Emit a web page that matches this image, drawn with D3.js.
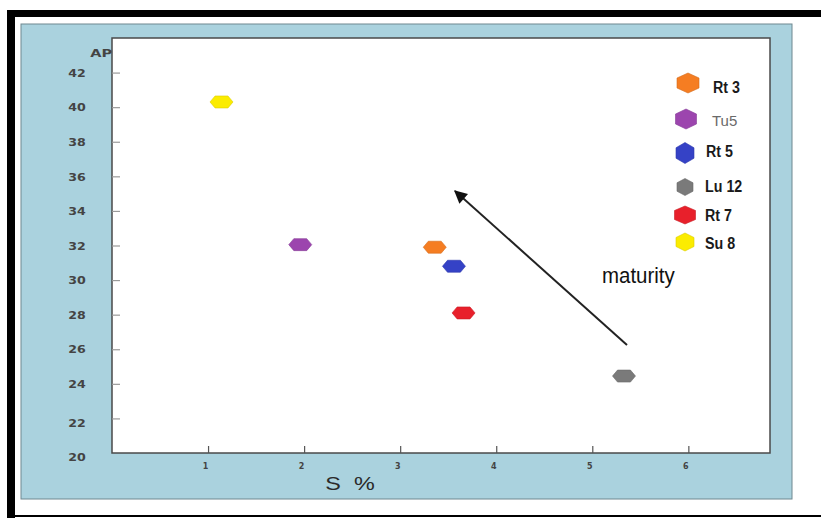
<!DOCTYPE html>
<html>
<head>
<meta charset="utf-8">
<script src="https://cdn.jsdelivr.net/npm/d3@7"></script>
<style>
  html, body { margin: 0; padding: 0; background: #fff; }
  svg { display: block; }
</style>
</head>
<body>
<svg id="chart" width="821" height="518"></svg>
<script>
// Samples and their sulphur / API values
const samples = ["Rt 3", "Tu5", "Rt 5", "Lu 12", "Rt 7", "Su 8"];
const sulphur = [3.36, 1.96, 3.56, 5.33, 3.66, 1.14];
const api     = [31.9, 32.05, 30.8, 24.45, 28.1, 40.3];
const colors  = ["#f57d22", "#9c45ae", "#3542c6", "#7a7a7a", "#e8202b", "#fbec00"];

const xTicks = [1, 2, 3, 4, 5, 6];
const yTicks = [20, 22, 24, 26, 28, 30, 32, 34, 36, 38, 40, 42];

const svg = d3.select("#chart");

// outer frame
svg.append("rect").attr("x", 7).attr("y", 10).attr("width", 814).attr("height", 7).attr("fill", "#000");
svg.append("rect").attr("x", 7).attr("y", 10).attr("width", 8).attr("height", 508).attr("fill", "#000");
svg.append("rect").attr("x", 7).attr("y", 515).attr("width", 814).attr("height", 2).attr("fill", "#000");

// light blue panel
svg.append("rect")
  .attr("x", 21).attr("y", 24).attr("width", 771).attr("height", 475)
  .attr("fill", "#aad2de").attr("stroke", "#6f8890").attr("stroke-width", 1);

const plotL = 112, plotR = 770, plotT = 38, plotB = 453;
const x = d3.scaleLinear().domain([0, 6.85]).range([plotL, plotR]);
const y = d3.scaleLinear().domain([20, 44]).range([plotB, plotT]);

// plotting area
svg.append("rect")
  .attr("x", plotL).attr("y", plotT).attr("width", plotR - plotL).attr("height", plotB - plotT)
  .attr("fill", "#fff").attr("stroke", "#4a4a4a").attr("stroke-width", 1.5);

// y axis
const yAxis = svg.append("g")
  .attr("transform", `translate(${plotL},0)`)
  .call(d3.axisLeft(y).tickValues(yTicks).tickSizeInner(-8).tickSizeOuter(0).tickPadding(0));
yAxis.select(".domain").remove();
yAxis.selectAll(".tick line").attr("stroke", "#9a9a9a").attr("stroke-width", 1.2)
  .filter(d => d === 20).remove();
yAxis.selectAll(".tick text")
  .attr("x", 0).attr("text-anchor", "middle")
  .attr("transform", "translate(-35,0) scale(1.2,1)")
  .attr("dy", d => d <= 22 ? "0.75em" : "0.35em")
  .attr("font-family", "DejaVu Sans, sans-serif").attr("font-weight", "bold")
  .attr("font-size", 10.5).attr("fill", "#444");

// x axis
const xAxis = svg.append("g")
  .attr("transform", `translate(0,${plotB})`)
  .call(d3.axisBottom(x).tickValues(xTicks).tickSizeInner(-7).tickSizeOuter(0).tickPadding(10)
    .tickFormat(d3.format("d")));
xAxis.select(".domain").remove();
xAxis.selectAll(".tick line").attr("stroke", "#555").attr("stroke-width", 1.2);
xAxis.selectAll(".tick text")
  .attr("dx", -3)
  .attr("font-family", "DejaVu Sans, sans-serif").attr("font-weight", "bold")
  .attr("font-size", 8).attr("fill", "#444");

// axis titles
svg.append("text")
  .attr("transform", "translate(112,57) scale(1.45,1)").attr("text-anchor", "end")
  .attr("font-family", "DejaVu Sans, sans-serif").attr("font-weight", "bold")
  .attr("font-size", 10).attr("fill", "#444").text("AP");

svg.append("text")
  .attr("transform", "translate(350,490) scale(1.3,1)").attr("text-anchor", "middle")
  .attr("word-spacing", 5)
  .attr("font-family", "Liberation Sans, Arial, sans-serif")
  .attr("font-size", 18).attr("fill", "#2a2a2a").text("S %");

// flat hexagon for data points
function hexWide(w, h) {
  const k = w * 0.22;
  return `M${-w / 2},0 L${-w / 2 + k},${-h / 2} L${w / 2 - k},${-h / 2} L${w / 2},0 L${w / 2 - k},${h / 2} L${-w / 2 + k},${h / 2} Z`;
}
// upright hexagon for legend symbols
function hexTall(w, h) {
  return `M0,${-h / 2} L${w / 2},${-h / 4} L${w / 2},${h / 4} L0,${h / 2} L${-w / 2},${h / 4} L${-w / 2},${-h / 4} Z`;
}

const points = samples.map((s, i) => ({ name: s, sx: sulphur[i], ap: api[i], color: colors[i] }));

svg.append("g").selectAll("path")
  .data(points)
  .join("path")
  .attr("transform", d => `translate(${x(d.sx)},${y(d.ap)})`)
  .attr("d", hexWide(23, 12))
  .attr("fill", d => d.color)
  .attr("stroke", d => d3.color(d.color).darker(0.4))
  .attr("stroke-width", 0.6);

// maturity arrow
const defs = svg.append("defs");
defs.append("marker")
  .attr("id", "arrowhead").attr("viewBox", "0 0 10 10")
  .attr("refX", 9).attr("refY", 5)
  .attr("markerWidth", 7).attr("markerHeight", 6.5)
  .attr("markerUnits", "strokeWidth")
  .attr("orient", "auto")
  .append("path").attr("d", "M0,0 L10,5 L0,10 Z").attr("fill", "#111");

svg.append("line")
  .attr("x1", 627).attr("y1", 345).attr("x2", 455).attr("y2", 191)
  .attr("stroke", "#222").attr("stroke-width", 2)
  .attr("marker-end", "url(#arrowhead)");

// condensed sans look: regular face squeezed horizontally
svg.append("text")
  .attr("transform", "translate(602,283) scale(0.93,1)")
  .attr("font-family", "Liberation Sans, Arial, sans-serif")
  .attr("font-size", 22).attr("fill", "#111").text("maturity");

// legend
const legendRows = [
  { my: 83, mx: 688, w: 22, h: 20, tx: 713, ty: 87 },
  { my: 119, mx: 686, w: 21, h: 20, tx: 712, ty: 121 },
  { my: 153, mx: 685, w: 18, h: 21, tx: 706, ty: 151 },
  { my: 187, mx: 685, w: 16, h: 17, tx: 705, ty: 186 },
  { my: 215, mx: 685, w: 21, h: 18, tx: 705, ty: 215 },
  { my: 242, mx: 685, w: 18, h: 18, tx: 705, ty: 243 }
];

const legend = svg.append("g");
points.forEach((d, i) => {
  const r = legendRows[i];
  legend.append("path")
    .attr("transform", `translate(${r.mx},${r.my})`)
    .attr("d", hexTall(r.w, r.h))
    .attr("fill", d.color)
    .attr("stroke", d3.color(d.color).darker(0.4)).attr("stroke-width", 0.6);
  const plain = d.name === "Tu5";
  legend.append("text")
    .attr("transform", `translate(${r.tx},${r.ty}) scale(${plain ? 1 : 0.84},1)`)
    .attr("dy", "0.36em")
    .attr("font-family", "Liberation Sans, Arial, sans-serif")
    .attr("font-weight", plain ? "normal" : "bold")
    .attr("font-size", plain ? 15 : 17)
    .attr("fill", plain ? "#6a6a6a" : "#1a1a1a")
    .text(d.name);
});
</script>
</body>
</html>
